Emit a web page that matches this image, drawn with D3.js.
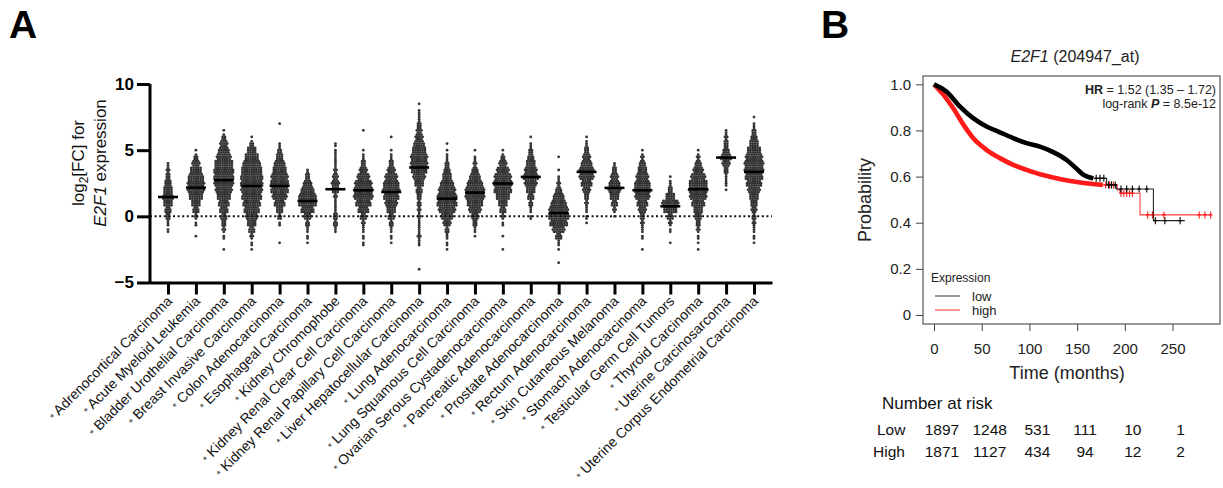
<!DOCTYPE html>
<html>
<head>
<meta charset="utf-8">
<script src="https://cdn.jsdelivr.net/npm/d3@7"></script>
<style>
  body { margin: 0; background: #fff; }
  svg { display: block; font-family: 'Liberation Sans', Arial, sans-serif; }
</style>
</head>
<body>
<svg id="chart" width="1223" height="488"></svg>
<script>
// ---- panel A data ----
const categories = [
  'Adrenocortical Carcinoma', 'Acute Myeloid Leukemia', 'Bladder Urothelial Carcinoma',
  'Breast Invasive Carcinoma', 'Colon Adenocarcinoma', 'Esophageal Carcinoma',
  'Kidney Chromophobe', 'Kidney Renal Clear Cell Carcinoma', 'Kidney Renal Papillary Cell Carcinoma',
  'Liver Hepatocellular Carcinoma', 'Lung Adenocarcinoma', 'Lung Squamous Cell Carcinoma',
  'Ovarian Serous Cystadenocarcinoma', 'Pancreatic Adenocarcinoma', 'Prostate Adenocarcinoma',
  'Rectum Adenocarcinoma', 'Skin Cutaneous Melanoma', 'Stomach Adenocarcinoma',
  'Testicular Germ Cell Tumors', 'Thyroid Carcinoma', 'Uterine Carcinosarcoma',
  'Uterine Corpus Endometrial Carcinoma'
];
const means = [1.46, 2.17, 2.73, 2.3, 2.3, 1.16, 2.05, 1.97, 1.84, 3.69, 1.34,
  1.8, 2.48, 2.98, 0.25, 3.36, 2.15, 1.97, 0.76, 2.05, 4.44, 3.36];
// bin centres -4 .. 8.5 (step 0.5); visible dot counts per bin, one row per category
const binStart = -4, binStep = 0.5;
const binCounts = [
  [0,0,0,0,0,0,2,3,6,8,12,14,12,9,6,4,2,0,0,0,0,0,0,0,0,0],
  [0,0,0,0,0,1,0,2,4,8,12,18,22,22,20,15,10,5,1,0,0,0,0,0,0,0],
  [0,0,0,1,0,2,4,6,8,11,14,18,22,25,26,26,24,19,14,10,5,1,0,0,0,0],
  [0,0,0,1,2,4,8,12,16,20,23,26,28,29,29,27,23,18,12,5,1,0,0,0,0,0],
  [0,0,0,0,1,0,0,2,5,9,14,19,23,24,22,18,14,9,5,2,0,0,1,0,0,0],
  [0,0,0,0,1,2,3,5,10,17,23,23,17,11,6,2,0,0,0,0,0,0,0,0,0,0],
  [0,0,0,0,0,0,3,5,6,3,3,4,9,10,7,4,3,3,2,2,0,0,0,0,0,0],
  [0,0,0,0,2,2,3,4,8,14,20,25,25,22,16,10,6,3,1,0,0,1,0,0,0,0],
  [0,0,0,0,1,2,3,5,8,12,16,20,22,20,16,10,6,3,1,0,1,0,0,0,0,0],
  [1,0,0,0,3,4,3,3,4,4,5,6,8,12,16,20,22,22,18,14,10,7,5,3,2,1],
  [0,0,0,1,2,3,5,10,16,22,26,26,22,17,12,8,5,3,1,1,0,0,0,0,0,0],
  [0,0,0,0,0,1,3,6,10,16,21,25,25,20,14,8,4,2,1,0,0,0,0,0,0,0],
  [0,0,0,1,0,1,0,2,4,8,12,18,23,25,22,16,10,5,1,0,0,0,0,0,0,0],
  [0,0,0,0,0,0,0,0,2,3,5,8,12,16,20,16,12,8,5,2,1,0,0,0,0,0],
  [0,1,0,1,3,8,16,23,27,25,20,14,8,4,2,1,0,1,0,0,0,0,0,0,0,0],
  [0,0,0,0,0,0,0,1,2,3,4,6,10,14,19,19,14,10,6,3,1,0,0,0,0,0],
  [0,0,0,0,0,0,0,0,1,4,8,12,16,14,10,6,2,0,0,0,0,0,0,0,0,0],
  [0,0,0,1,0,2,3,4,6,10,14,19,22,20,16,12,8,4,1,0,0,0,0,0,0,0],
  [0,0,0,0,1,0,2,4,8,18,22,12,6,3,1,0,0,0,0,0,0,0,0,0,0,0],
  [0,0,0,1,1,2,4,6,9,12,17,22,25,24,19,13,8,4,1,0,0,0,0,0,0,0],
  [0,0,0,0,0,0,0,0,0,0,0,0,1,3,3,6,10,14,8,6,4,2,0,0,0,0],
  [0,0,0,0,1,2,3,4,5,7,9,12,16,20,23,25,25,22,18,12,8,5,2,1,0,0]
];
const yTicksA = [-5, 0, 5, 10];

// ---- panel B data ----
const lowTime  = [0, 13, 27, 41, 55, 69, 83, 97, 111, 125, 139, 149, 156, 167, 181, 191, 230, 263];
const lowSurv  = [1.0, 0.969, 0.904, 0.853, 0.817, 0.792, 0.767, 0.745, 0.730, 0.706, 0.672, 0.636, 0.610, 0.593, 0.564, 0.546, 0.409, 0.409];
const highTime = [0, 10, 20, 31, 41, 55, 69, 83, 97, 111, 125, 143, 159, 177, 192, 195, 216, 290];
const highSurv = [1.0, 0.954, 0.897, 0.824, 0.767, 0.716, 0.680, 0.651, 0.629, 0.610, 0.596, 0.581, 0.571, 0.564, 0.542, 0.528, 0.434, 0.434];
const lowCensor  = [170, 174, 178, 183, 186, 190, 196, 202, 208, 215, 223, 232, 242, 258];
const highCensor = [180, 184, 188, 196, 199, 202, 205, 208, 224, 229, 241, 278, 284, 290];
const lowDenseEnd = 167, highDenseEnd = 177;   // heavy censoring up to these times
const riskTimes = [0, 50, 100, 150, 200, 250];
const riskLow  = [1897, 1248, 531, 111, 10, 1];
const riskHigh = [1871, 1127, 434, 94, 12, 2];
const xTicksB = [0, 50, 100, 150, 200, 250];
const yTicksB = [0, 0.2, 0.4, 0.6, 0.8, 1.0];

const svg = d3.select('#chart');

// panel letters
svg.append('text').attr('x', 9).attr('y', 38).attr('font-size', 39).attr('font-weight', 'bold').text('A');
svg.append('text').attr('x', 821).attr('y', 38).attr('font-size', 39).attr('font-weight', 'bold').text('B');

// ================= Panel A =================
const x = d3.scalePoint().domain(categories).range([150, 772]).padding(0.645);
const y = d3.scaleLinear().domain([-5, 10]).range([282.5, 84]);

const gA = svg.append('g');

// dots
const dotStep = 2.3, rowOff = [-0.167, 0, 0.167];
binCounts.forEach((counts, ci) => {
  const cx = x(categories[ci]);
  counts.forEach((n, bi) => {
    if (!n) return;
    const centre = binStart + bi * binStep;
    for (let r = 0; r < 3; r++) {
      const m = Math.floor(n / 3) + (r < n % 3 ? 1 : 0);
      const order = [1, 0, 2][r];
      for (let j = 0; j < m; j++) {
        gA.append('circle')
          .attr('cx', cx + (j - (m - 1) / 2) * dotStep)
          .attr('cy', y(centre + rowOff[order]))
          .attr('r', 1.4)
          .attr('fill', '#333');
      }
    }
  });
});

// zero line
gA.append('line').attr('x1', 150).attr('x2', 772).attr('y1', y(0)).attr('y2', y(0))
  .attr('stroke', '#111').attr('stroke-width', 2).attr('stroke-dasharray', '2,2.6');

// mean bars
gA.selectAll('.mean').data(means).enter().append('line')
  .attr('x1', (d, i) => x(categories[i]) - 10)
  .attr('x2', (d, i) => x(categories[i]) + 10)
  .attr('y1', d => y(d)).attr('y2', d => y(d))
  .attr('stroke', '#000').attr('stroke-width', 2.6);

// axes
const yAxis = gA.append('g').attr('transform', 'translate(150,0)')
  .call(d3.axisLeft(y).tickValues(yTicksA).tickSize(13).tickSizeOuter(0).tickPadding(3));
yAxis.select('.domain').attr('stroke-width', 3).attr('d', `M0,${y(10)}V${y(-5) + 1.5}`);
yAxis.selectAll('.tick line').attr('stroke-width', 3);
yAxis.selectAll('.tick text').attr('font-size', 17).attr('font-weight', 'bold')
  .attr('font-family', "'Liberation Sans', Arial, sans-serif").attr('fill', '#000');

const xAxis = gA.append('g').attr('transform', `translate(0,${y(-5)})`)
  .call(d3.axisBottom(x).tickSize(12).tickSizeOuter(0).tickFormat(''));
xAxis.select('.domain').attr('stroke-width', 3);
xAxis.selectAll('.tick line').attr('stroke-width', 3);

// category labels
const lab = gA.selectAll('.catlab').data(categories).enter().append('text')
  .attr('transform', d => `translate(${x(d) + 5},${302}) rotate(-45)`)
  .attr('text-anchor', 'end')
  .attr('font-size', 14)
  .attr('fill', '#111');
lab.append('tspan').attr('font-size', 10).attr('fill', '#333').text('*');
lab.append('tspan').text(d => ' ' + d);

// y label
const yl = gA.append('g').attr('transform', 'translate(84,163) rotate(-90)');
const t1 = yl.append('text').attr('text-anchor', 'middle').attr('font-size', 17).attr('fill', '#111');
t1.append('tspan').text('log');
t1.append('tspan').attr('font-size', 12).attr('dy', 4).text('2');
t1.append('tspan').attr('dy', -4).text('[FC] for');
const t2 = yl.append('text').attr('text-anchor', 'middle').attr('y', 22).attr('font-size', 17).attr('fill', '#111');
t2.append('tspan').attr('font-style', 'italic').text('E2F1');
t2.append('tspan').text(' expression');

// ================= Panel B =================
const xb = d3.scaleLinear().domain([0, 250]).range([934, 1172.5]);
const yb = d3.scaleLinear().domain([0, 1]).range([315, 84.3]);
const box = { l: 923, r: 1220, t: 76, b: 324 };
const gB = svg.append('g');

gB.append('rect').attr('x', box.l).attr('y', box.t).attr('width', box.r - box.l).attr('height', box.b - box.t)
  .attr('fill', 'none').attr('stroke', '#555').attr('stroke-width', 1.2);

// title
const title = gB.append('text').attr('x', 1075).attr('y', 62).attr('text-anchor', 'middle')
  .attr('font-size', 16).attr('fill', '#222');
title.append('tspan').attr('font-style', 'italic').text('E2F1');
title.append('tspan').text(' (204947_at)');

// y axis
const yAxB = gB.append('g').attr('transform', `translate(${box.l},0)`)
  .call(d3.axisLeft(yb).tickValues(yTicksB).tickSize(7).tickSizeOuter(0).tickPadding(5)
    .tickFormat(d => d === 0 ? '0' : d3.format('.1f')(d)));
yAxB.select('.domain').remove();
yAxB.selectAll('.tick line').attr('stroke', '#444');
yAxB.selectAll('.tick text').attr('font-size', 15).attr('fill', '#222')
  .attr('font-family', "'Liberation Sans', Arial, sans-serif");

// x axis
const xAxB = gB.append('g').attr('transform', `translate(0,${box.b})`)
  .call(d3.axisBottom(xb).tickValues(xTicksB).tickSize(7).tickSizeOuter(0).tickPadding(12));
xAxB.select('.domain').remove();
xAxB.selectAll('.tick line').attr('stroke', '#444');
xAxB.selectAll('.tick text').attr('font-size', 15).attr('fill', '#222')
  .attr('font-family', "'Liberation Sans', Arial, sans-serif");

gB.append('text').attr('x', 1067).attr('y', 379).attr('text-anchor', 'middle')
  .attr('font-size', 18).attr('fill', '#222').text('Time (months)');
gB.append('text').attr('transform', 'translate(871,200) rotate(-90)').attr('text-anchor', 'middle')
  .attr('font-size', 18).attr('fill', '#222').text('Probability');

// HR text
const hr1 = gB.append('text').attr('x', 1216).attr('y', 94).attr('text-anchor', 'end')
  .attr('font-size', 12.5).attr('fill', '#222');
hr1.append('tspan').attr('font-weight', 'bold').text('HR');
hr1.append('tspan').text(' = 1.52 (1.35 \u2013 1.72)');
const hr2 = gB.append('text').attr('x', 1216).attr('y', 108).attr('text-anchor', 'end')
  .attr('font-size', 12.5).attr('fill', '#222');
hr2.append('tspan').text('log-rank ');
hr2.append('tspan').attr('font-style', 'italic').attr('font-weight', 'bold').text('P');
hr2.append('tspan').text(' = 8.5e-12');

// curves
function stepValue(times, surv, t) {
  let v = surv[0];
  for (let i = 0; i < times.length; i++) if (times[i] <= t) v = surv[i];
  return v;
}
const series = [
  { times: lowTime, surv: lowSurv, cens: lowCensor, dense: lowDenseEnd, color: '#000' },
  { times: highTime, surv: highSurv, cens: highCensor, dense: highDenseEnd, color: '#ff1a1a' }
];
const stepLine = d3.line().x(d => xb(d[0])).y(d => yb(d[1])).curve(d3.curveStepAfter);
const smoothLine = d3.line().x(d => xb(d[0])).y(d => yb(d[1])).curve(d3.curveMonotoneX);
series.slice().reverse().forEach(s => {
  const pts = s.times.map((t, i) => [t, s.surv[i]]);
  const tail = pts.filter(p => p[0] >= s.dense);
  gB.append('path').attr('d', stepLine(tail)).attr('fill', 'none')
    .attr('stroke', s.color).attr('stroke-width', 1.1).attr('opacity', 0.85);
  const dense = pts.filter(p => p[0] <= s.dense);
  gB.append('path').attr('d', smoothLine(dense)).attr('fill', 'none')
    .attr('stroke', s.color).attr('stroke-width', 4.6).attr('stroke-linecap', 'butt');
  s.cens.forEach(t => {
    const cx = xb(t), cy = yb(stepValue(s.times, s.surv, t));
    gB.append('line').attr('x1', cx).attr('x2', cx).attr('y1', cy - 3.5).attr('y2', cy + 3.5)
      .attr('stroke', s.color).attr('stroke-width', 1.1);
    gB.append('line').attr('x1', cx - 2).attr('x2', cx + 2).attr('y1', cy).attr('y2', cy)
      .attr('stroke', s.color).attr('stroke-width', 1.1);
  });
});

// legend
gB.append('text').attr('x', 931).attr('y', 282).attr('font-size', 12).attr('fill', '#222').text('Expression');
[['low', '#555', 296], ['high', '#f55', 310]].forEach(([name, col, ly]) => {
  gB.append('line').attr('x1', 935).attr('x2', 960).attr('y1', ly).attr('y2', ly)
    .attr('stroke', col).attr('stroke-width', 1.2);
  gB.append('text').attr('x', 972).attr('y', ly + 4.5).attr('font-size', 13).attr('fill', '#222').text(name);
});

// number at risk
gB.append('text').attr('x', 882).attr('y', 409).attr('font-size', 17).attr('fill', '#111').text('Number at risk');
[['Low', riskLow, 435], ['High', riskHigh, 457]].forEach(([name, vals, ry]) => {
  gB.append('text').attr('x', name === 'Low' ? 877 : 873).attr('y', ry).attr('font-size', 15.5)
    .attr('fill', '#111').text(name);
  vals.forEach((v, i) => {
    gB.append('text').attr('x', xb(riskTimes[i]) + 8).attr('y', ry).attr('text-anchor', 'middle')
      .attr('font-size', 15.5).attr('fill', '#111').text(v);
  });
});
</script>
</body>
</html>
